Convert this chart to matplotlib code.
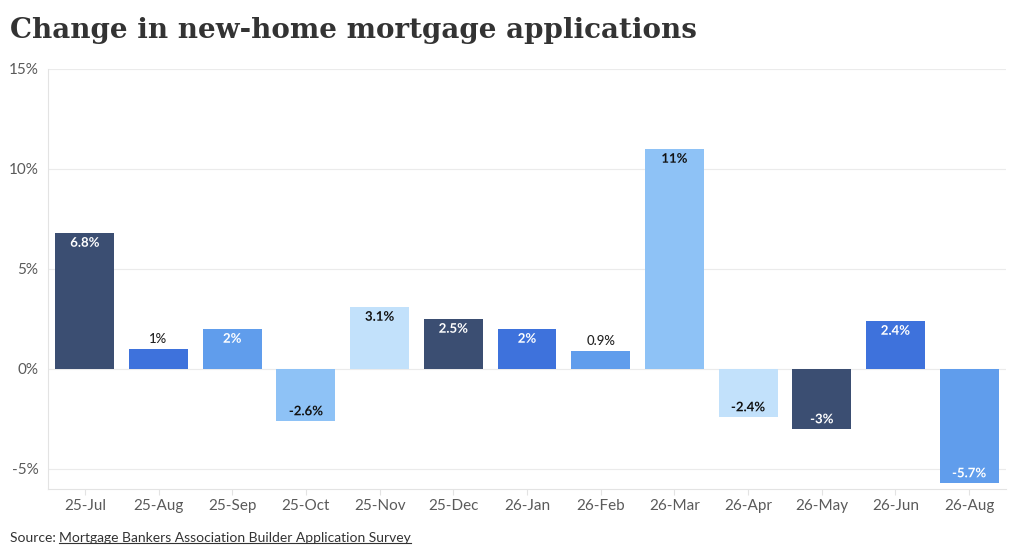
import matplotlib
matplotlib.use("Agg")
import matplotlib.pyplot as plt
import matplotlib.patheffects as pe
from matplotlib.lines import Line2D

# --- data ---
months = ["25-Jul", "25-Aug", "25-Sep", "25-Oct", "25-Nov", "25-Dec", "26-Jan",
          "26-Feb", "26-Mar", "26-Apr", "26-May", "26-Jun", "26-Aug"]
change_pct = [6.8, 1, 2, -2.6, 3.1, 2.5, 2, 0.9, 11, -2.4, -3, 2.4, -5.7]
value_labels = ["6.8%", "1%", "2%", "-2.6%", "3.1%", "2.5%", "2%", "0.9%",
                "11%", "-2.4%", "-3%", "2.4%", "-5.7%"]
y_ticks = [-5, 0, 5, 10, 15]
y_tick_labels = ["-5%", "0%", "5%", "10%", "15%"]

# --- style ---
palette = ["#3b4e72", "#3e72dc", "#609dec", "#8ec2f6", "#c2e1fb"]
text_on = {"#3b4e72": "white", "#3e72dc": "white", "#609dec": "white",
           "#8ec2f6": "#111111", "#c2e1fb": "#111111"}
GRID = "#ebebeb"
AXIS = "#e3e3e3"
TICK_TXT = "#5a5a5a"

plt.rcParams["font.family"] = ["Lato", "DejaVu Sans"]

fig = plt.figure(figsize=(10.2, 5.56), dpi=100)
ax = fig.add_axes([48 / 1020, 1 - 489 / 556, 958 / 1020, 420 / 556])

x = list(range(len(months)))
colors = [palette[i % len(palette)] for i in x]
ax.bar(x, change_pct, width=0.8, color=colors, zorder=2)

for xi, v, lab, c in zip(x, change_pct, value_labels, colors):
    if abs(v) < 1.5:
        # small bars: label sits above, plain dark text
        ax.annotate(lab, (xi, v), xytext=(0, 7), textcoords="offset points",
                    ha="center", va="center", fontsize=9.5, color="#222222",
                    fontweight="medium", zorder=4)
        continue
    off = -7 if v > 0 else 7
    ax.annotate(lab, (xi, v), xytext=(0, off), textcoords="offset points",
                ha="center", va="center", fontsize=9.5, color=text_on[c],
                fontweight="bold", zorder=4,
                path_effects=[pe.withStroke(linewidth=3, foreground=c)])

ax.set_xlim(-0.5, len(months) - 0.5)
ax.set_ylim(-6, 15)
ax.set_yticks(y_ticks)
ax.set_yticklabels(y_tick_labels)
ax.set_xticks(x)
ax.set_xticklabels(months)

ax.yaxis.grid(True, color=GRID, linewidth=0.8, zorder=0)
ax.set_axisbelow(True)
for side in ["top", "right"]:
    ax.spines[side].set_visible(False)
ax.spines["left"].set_color(AXIS)
ax.spines["bottom"].set_color(AXIS)
ax.spines["left"].set_linewidth(0.8)
ax.spines["bottom"].set_linewidth(0.8)

ax.tick_params(axis="y", length=0, pad=7, labelsize=11, labelcolor=TICK_TXT)
ax.tick_params(axis="x", length=4, color=AXIS, pad=3, labelsize=11,
               labelcolor=TICK_TXT)

fig.text(10 / 1020, 1 - 30 / 556, "Change in new-home mortgage applications",
         fontsize=20, fontweight="bold", family=["DejaVu Serif"],
         color="#333333", ha="left", va="center")

src_label = fig.text(10 / 1020, 1 - 538 / 556, "Source: ", fontsize=10,
                     color="#333333", ha="left", va="center")
fig.canvas.draw()
renderer = fig.canvas.get_renderer()
bb = src_label.get_window_extent(renderer)
link = fig.text(bb.x1 / 1020, 1 - 538 / 556,
                "Mortgage Bankers Association Builder Application Survey",
                fontsize=10, color="#333333", ha="left", va="center")
lb = link.get_window_extent(renderer)
fig.add_artist(Line2D([lb.x0 / 1020, lb.x1 / 1020],
                      [(lb.y0 + 1) / 556, (lb.y0 + 1) / 556],
                      color="#333333", linewidth=0.8))

fig.savefig("out.png", dpi=100)
